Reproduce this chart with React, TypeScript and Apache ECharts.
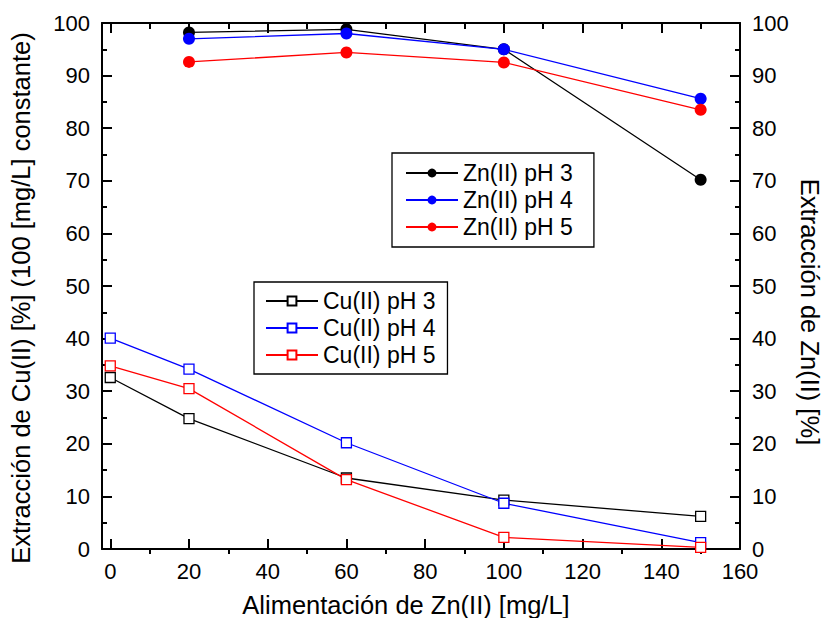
import React, { useEffect, useRef } from 'react';
import * as echarts from 'echarts';

// ---- data ----
const xZn = [20, 60, 100, 150];
const znPH3 = [98.2, 98.8, 95.0, 70.2];
const znPH4 = [97.0, 98.0, 95.0, 85.6];
const znPH5 = [92.6, 94.4, 92.5, 83.5];

const xCu = [0, 20, 60, 100, 150];
const cuPH3 = [32.6, 24.8, 13.5, 9.3, 6.2];
const cuPH4 = [40.1, 34.2, 20.2, 8.7, 1.2];
const cuPH5 = [34.8, 30.5, 13.2, 2.2, 0.3];

const xMajorTicks = [0, 20, 40, 60, 80, 100, 120, 140, 160];
const xMinorTicks = [10, 30, 50, 70, 90, 110, 130, 150];

const znNames = ['Zn(II) pH 3', 'Zn(II) pH 4', 'Zn(II) pH 5'];
const cuNames = ['Cu(II) pH 3', 'Cu(II) pH 4', 'Cu(II) pH 5'];

const xTitle = 'Alimentación de Zn(II) [mg/L]';
const yLeftTitle = 'Extracción de Cu(II) [%] (100 [mg/L] constante)';
const yRightTitle = 'Extracción de Zn(II) [%]';

const FONT = '"Liberation Sans", Arial, Helvetica, sans-serif';
const COLORS = ['#000000', '#0000ff', '#ff0000'];

export default function App() {
  const ref = useRef<HTMLDivElement>(null);

  useEffect(() => {
    if (!ref.current) return;
    const chart = echarts.init(ref.current, null, { renderer: 'svg' });
    const pair = (xs: number[], ys: number[]) => xs.map((x, i) => [x, ys[i]]);
    const tickLine = { color: '#000', width: 2 };
    const X_MIN = -2.1;
    const X_MAX = 160;

    const xBase: any = {
      type: 'value',
      min: X_MIN,
      max: X_MAX,
      splitLine: { show: false },
      axisLabel: { show: false },
      axisLine: { show: false, onZero: false },
    };

    const yBase: any = {
      type: 'value',
      min: 0,
      max: 100,
      interval: 10,
      splitLine: { show: false },
      axisLine: { show: true, onZero: false, lineStyle: tickLine },
      axisTick: { show: true, inside: true, length: 10, lineStyle: tickLine },
      minorTick: { show: true, splitNumber: 2, length: 5, lineStyle: tickLine },
      axisLabel: { margin: 12, fontSize: 22, color: '#000', fontFamily: FONT },
    };

    const legendBase: any = {
      orient: 'vertical',
      align: 'left',
      itemWidth: 52,
      itemHeight: 11,
      itemGap: 4,
      borderColor: '#000',
      borderWidth: 1.3,
      selectedMode: false,
      textStyle: { fontSize: 23, lineHeight: 23, color: '#000', fontFamily: FONT },
    };

    const option: any = {
      animation: false,
      backgroundColor: '#ffffff',
      textStyle: { fontFamily: FONT },
      grid: { left: 102, right: 92, top: 23, bottom: 69, containLabel: false },
      xAxis: [
        {
          ...xBase,
          position: 'bottom',
          axisLine: { show: true, onZero: false, lineStyle: tickLine },
          axisTick: { show: true, inside: true, length: 10, customValues: xMajorTicks, lineStyle: tickLine },
          axisLabel: { show: true, customValues: xMajorTicks, margin: 11, fontSize: 22, color: '#000', fontFamily: FONT },
        },
        {
          ...xBase,
          position: 'bottom',
          axisTick: { show: true, inside: false, length: 5, customValues: xMinorTicks, lineStyle: tickLine },
        },
        {
          ...xBase,
          position: 'top',
          axisLine: { show: true, onZero: false, lineStyle: tickLine },
          axisTick: { show: true, inside: true, length: 10, customValues: xMajorTicks, lineStyle: tickLine },
        },
        {
          ...xBase,
          position: 'top',
          axisTick: { show: true, inside: true, length: 6, customValues: xMinorTicks, lineStyle: tickLine },
        },
      ],
      yAxis: [
        { ...yBase, position: 'left' },
        { ...yBase, position: 'right' },
      ],
      legend: [
        {
          ...legendBase,
          left: 392,
          top: 153,
          padding: [8.5, 21, 8.5, 13],
          data: znNames,
        },
        {
          ...legendBase,
          left: 254,
          top: 282,
          padding: [7.5, 12, 7.5, 11],
          data: cuNames,
        },
      ],
      graphic: [
        {
          type: 'text',
          x: 406,
          y: 605,
          style: { text: xTitle, fontSize: 25.5, fontFamily: FONT, fill: '#000', align: 'center', verticalAlign: 'middle' },
        },
        {
          type: 'text',
          x: 21,
          y: 298,
          rotation: Math.PI / 2,
          style: { text: yLeftTitle, fontSize: 25.5, fontFamily: FONT, fill: '#000', align: 'center', verticalAlign: 'middle' },
        },
        {
          type: 'text',
          x: 810,
          y: 312,
          rotation: -Math.PI / 2,
          style: { text: yRightTitle, fontSize: 25.5, fontFamily: FONT, fill: '#000', align: 'center', verticalAlign: 'middle' },
        },
      ],
      series: [
        ...[cuPH3, cuPH4, cuPH5].map((vals, i) => ({
          name: cuNames[i],
          type: 'line',
          xAxisIndex: 0,
          yAxisIndex: 0,
          data: pair(xCu, vals),
          color: COLORS[i],
          symbol: 'rect',
          symbolSize: 10,
          showSymbol: true,
          lineStyle: { color: COLORS[i], width: 1.3 },
          itemStyle: { color: '#ffffff', borderColor: COLORS[i], borderWidth: 1.3 },
          emphasis: { disabled: true },
        })),
        ...[znPH3, znPH4, znPH5].map((vals, i) => ({
          name: znNames[i],
          type: 'line',
          xAxisIndex: 0,
          yAxisIndex: 1,
          data: pair(xZn, vals),
          color: COLORS[i],
          symbol: 'circle',
          symbolSize: 12,
          showSymbol: true,
          lineStyle: { color: COLORS[i], width: 1.3 },
          itemStyle: { color: COLORS[i], borderWidth: 0 },
          emphasis: { disabled: true },
        })),
      ],
    };

    chart.setOption(option);
    return () => {
      chart.dispose();
    };
  }, []);

  return (
    <div
      ref={ref}
      style={{ position: 'absolute', left: 0, top: 0, width: 832, height: 618, background: '#fff' }}
    />
  );
}
